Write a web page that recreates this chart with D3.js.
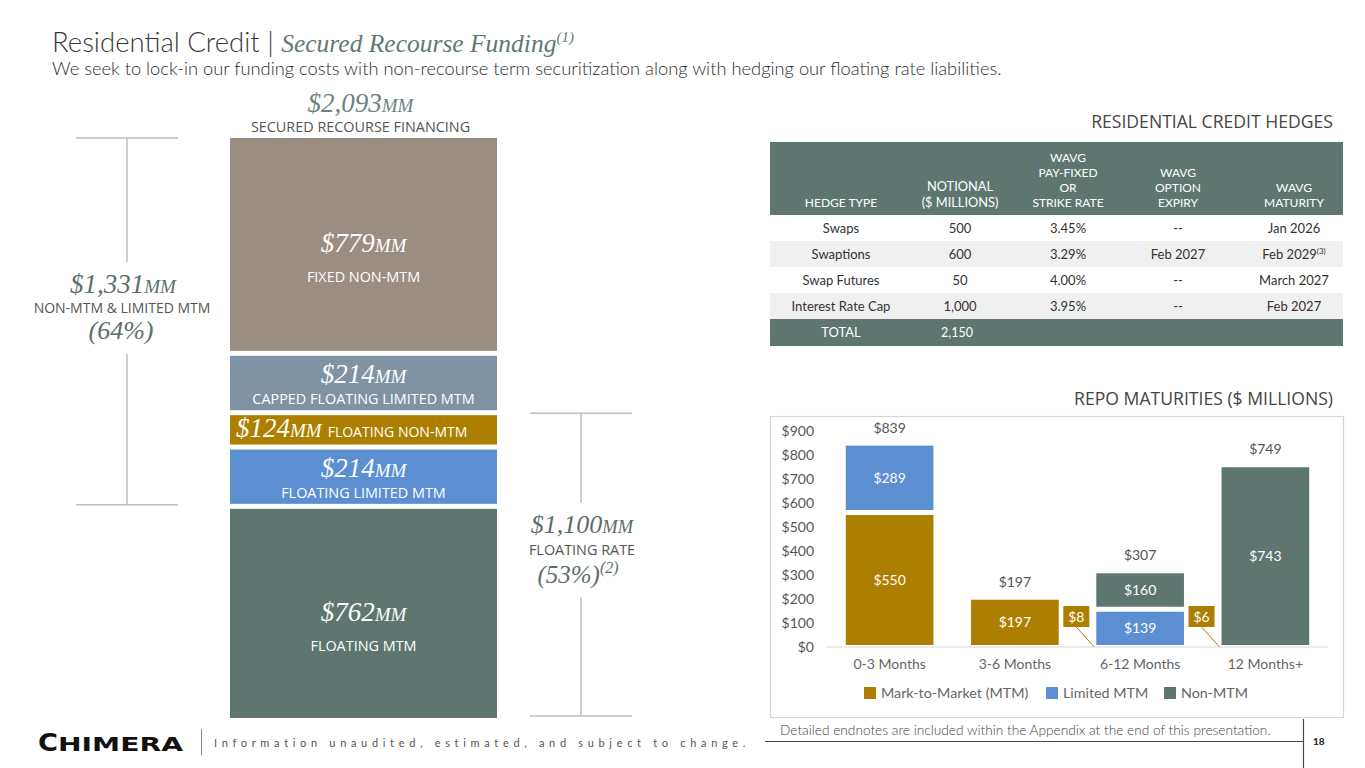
<!DOCTYPE html>
<html>
<head>
<meta charset="utf-8">
<script src="https://cdn.jsdelivr.net/npm/d3@7"></script>
<style>
  html, body { margin: 0; padding: 0; background: #fff; }
  svg { display: block; }
  text { font-family: Lato, "Open Sans", sans-serif; }
  .serif { font-family: "Liberation Serif", "DejaVu Serif", serif; font-style: italic; }
  .caps { font-family: "Open Sans", Lato, sans-serif; }
</style>
</head>
<body>
<svg id="chart" width="1365" height="768"></svg>
<script>
// ---------------- DATA ----------------
const fundingCategories = ["FLOATING MTM", "FLOATING LIMITED MTM", "FLOATING NON-MTM", "CAPPED FLOATING LIMITED MTM", "FIXED NON-MTM"];
const fundingValues = [762, 214, 124, 214, 779];
const fundingTotal = 2093;
const nonMtmLimitedTotal = 1331;   // 779 + 214 + 124 + 214
const floatingTotal = 1100;        // 762 + 214 + 124

const hedgeTypes = ["Swaps", "Swaptions", "Swap Futures", "Interest Rate Cap"];
const hedgeNotional = ["500", "600", "50", "1,000"];
const hedgeRate = ["3.45%", "3.29%", "4.00%", "3.95%"];
const hedgeExpiry = ["--", "Feb 2027", "--", "--"];
const hedgeMaturity = ["Jan 2026", "Feb 2029", "March 2027", "Feb 2027"];
const hedgeTotal = "2,150";

const repoCategories = ["0-3 Months", "3-6 Months", "6-12 Months", "12 Months+"];
const repoMTM = [550, 197, 8, 6];
const repoLimited = [289, 0, 139, 0];
const repoNonMTM = [0, 0, 160, 743];
const repoTotals = [839, 197, 307, 749];
const repoTicks = [0, 100, 200, 300, 400, 500, 600, 700, 800, 900];
const repoSeries = ["Mark-to-Market (MTM)", "Limited MTM", "Non-MTM"];

// ---------------- STYLE ----------------
const fundingColors = ["#5d7770", "#5b8fd1", "#ad7f00", "#7f93a5", "#9a8e82"];
const repoColors = ["#ad7f00", "#5b8fd1", "#5d7770"];
const accent = "#6a837d";
const VAL = 27, MMS = 19, CAP = 14.4;

const svg = d3.select("#chart");

// ---------------- TITLE ----------------
const title = svg.append("text").attr("x", 52).attr("y", 52).attr("fill", "#3a3a3a");
title.append("tspan").attr("font-size", 27.5).attr("font-weight", 300).text("Residential Credit | ");
title.append("tspan").attr("font-size", 25.5).attr("fill", "#5f7a74")
  .style("font-family", "'Liberation Serif', serif").style("font-style", "italic").text("Secured Recourse Funding");
title.append("tspan").attr("dy", -10).attr("font-size", 15).attr("fill", "#5f7a74")
  .style("font-family", "'Liberation Serif', serif").style("font-style", "italic").text("(1)");

svg.append("text").attr("x", 52).attr("y", 75).attr("font-size", 18.3).attr("font-weight", 300).attr("fill", "#2e2e2e")
  .text("We seek to lock-in our funding costs with non-recourse term securitization along with hedging our floating rate liabilities.");

// ---------------- LEFT STACKED BAR ----------------
const barX0 = 230, barX1 = 497, barCx = (barX0 + barX1) / 2;
const yF = d3.scaleLinear().domain([0, fundingTotal]).range([718, 138]);
const gap = 5;
let cum = 0;
const fundingStack = fundingValues.map((v, i) => {
  const s = { cat: fundingCategories[i], value: v, y0: cum, y1: cum + v, i };
  cum += v; return s;
});

const gF = svg.append("g");
gF.selectAll("rect").data(fundingStack).join("rect")
  .attr("x", barX0).attr("width", barX1 - barX0)
  .attr("y", d => yF(d.y1) + (d.y1 < fundingTotal ? 2 : 0))
  .attr("height", d => yF(d.y0) - yF(d.y1) - (d.y0 > 0 ? gap : 0) - (d.y1 < fundingTotal ? 2 : 0) + (d.y0 > 0 ? 2 : 0))
  .attr("fill", d => fundingColors[d.i]);

function moneyMM(sel, val, size, mm) {
  sel.append("tspan").attr("font-size", size).text("$" + d3.format(",")(val));
  sel.append("tspan").attr("font-size", mm || size * 0.71).text("MM");
}

fundingStack.forEach(d => {
  const top = yF(d.y1), bot = yF(d.y0) - (d.y0 > 0 ? gap : 0);
  const mid = (top + bot) / 2 + 1, h = bot - top;
  if (h < 40) {
    const t = gF.append("text").attr("x", barX0 + 6).attr("y", mid + 8).attr("fill", "#fff");
    const s = t.append("tspan").style("font-family", "'Liberation Serif', serif").style("font-style", "italic");
    s.append("tspan").attr("font-size", VAL).text("$" + d.value);
    s.append("tspan").attr("font-size", MMS).text("MM");
    t.append("tspan").attr("dx", 6).style("font-family", "'Open Sans', sans-serif")
      .attr("font-size", CAP - 0.4).text(d.cat);
  } else {
    const big = h > 100;
    const vy = big ? mid + 8 : mid + 1;
    const cy = big ? mid + 38 : mid + 22;
    const t = gF.append("text").attr("class", "serif").attr("x", barCx).attr("y", vy)
      .attr("text-anchor", "middle").attr("fill", "#fff");
    moneyMM(t, d.value, VAL, MMS);
    gF.append("text").attr("class", "caps").attr("x", barCx).attr("y", cy).attr("text-anchor", "middle")
      .attr("fill", "#fff").attr("font-size", CAP).text(d.cat);
  }
});

// Header of the stacked bar
const th = svg.append("text").attr("class", "serif").attr("x", barCx - 3).attr("y", 112)
  .attr("text-anchor", "middle").attr("fill", accent);
moneyMM(th, fundingTotal, VAL, MMS);
svg.append("text").attr("class", "caps").attr("x", barCx - 3).attr("y", 132).attr("text-anchor", "middle")
  .attr("font-size", CAP).attr("fill", "#555").text("SECURED RECOURSE FINANCING");

// Brackets
function bracket(cx, halfW, yTop, yBot, gapTop, gapBot, color) {
  const g = svg.append("g").attr("stroke", color).attr("stroke-width", 1.5);
  g.append("line").attr("x1", cx - halfW).attr("x2", cx + halfW).attr("y1", yTop).attr("y2", yTop);
  g.append("line").attr("x1", cx - halfW).attr("x2", cx + halfW).attr("y1", yBot).attr("y2", yBot);
  g.append("line").attr("x1", cx).attr("x2", cx).attr("y1", yTop).attr("y2", gapTop);
  g.append("line").attr("x1", cx).attr("x2", cx).attr("y1", gapBot).attr("y2", yBot);
}
const leftTop = yF(fundingTotal), leftBot = yF(fundingTotal - nonMtmLimitedTotal) - 2;
bracket(127, 51, leftTop, leftBot, 262, 354, "#b9c1c1");
const l1 = svg.append("text").attr("class", "serif").attr("x", 123).attr("y", 293)
  .attr("text-anchor", "middle").attr("fill", "#5e6e6c");
moneyMM(l1, nonMtmLimitedTotal, 27, 19);
svg.append("text").attr("class", "caps").attr("x", 122).attr("y", 313).attr("text-anchor", "middle")
  .attr("font-size", 14).attr("fill", "#555").text("NON-MTM & LIMITED MTM");
svg.append("text").attr("class", "serif").attr("x", 121).attr("y", 339).attr("text-anchor", "middle")
  .attr("font-size", 26).attr("fill", "#5e6e6c").text("(" + Math.round(nonMtmLimitedTotal / fundingTotal * 100) + "%)");

const rightTop = yF(floatingTotal), rightBot = yF(0) - 2;
bracket(581, 51, rightTop, rightBot, 503, 597, "#b9c1c1");
const r1 = svg.append("text").attr("class", "serif").attr("x", 582).attr("y", 533)
  .attr("text-anchor", "middle").attr("fill", "#5e6e6c");
moneyMM(r1, floatingTotal, 26, 18.5);
svg.append("text").attr("class", "caps").attr("x", 582).attr("y", 555).attr("text-anchor", "middle")
  .attr("font-size", 14.4).attr("fill", "#555").text("FLOATING RATE");
const r3 = svg.append("text").attr("class", "serif").attr("x", 578).attr("y", 583).attr("text-anchor", "middle")
  .attr("fill", "#5e6e6c");
r3.append("tspan").attr("font-size", 25).text("(" + Math.round(floatingTotal / fundingTotal * 100) + "%)");
r3.append("tspan").attr("font-size", 16).attr("dy", -10).text("(2)");

// ---------------- HEDGES TABLE ----------------
svg.append("text").attr("class", "caps").attr("x", 1333).attr("y", 128).attr("text-anchor", "end")
  .attr("font-size", 17.6).attr("fill", "#444").text("RESIDENTIAL CREDIT HEDGES");

const tX0 = 770, tX1 = 1343;
const colCenters = [841, 960, 1068, 1178, 1294];
const headerTop = 142, headerBot = 215, rowH = 26;
const tbl = svg.append("g");
tbl.append("rect").attr("x", tX0).attr("y", headerTop).attr("width", tX1 - tX0).attr("height", headerBot - headerTop).attr("fill", "#5d7770");
const headerLines = [["HEDGE TYPE"], ["NOTIONAL", "($ MILLIONS)"], ["WAVG", "PAY-FIXED", "OR", "STRIKE RATE"], ["WAVG", "OPTION", "EXPIRY"], ["WAVG", "MATURITY"]];
headerLines.forEach((lines, c) => {
  lines.forEach((ln, k) => {
    const big = c === 1;
    tbl.append("text").attr("x", colCenters[c]).attr("y", 207 - (lines.length - 1 - k) * (big ? 16 : 15))
      .attr("text-anchor", "middle").attr("fill", "#fff").attr("font-size", big ? 12.8 : 12)
      .text(ln);
  });
});
hedgeTypes.forEach((h, r) => {
  const y = headerBot + r * rowH;
  tbl.append("rect").attr("x", tX0).attr("y", y).attr("width", tX1 - tX0).attr("height", rowH)
    .attr("fill", r % 2 === 0 ? "#ffffff" : "#f0f0f0");
  const vals = [h, hedgeNotional[r], hedgeRate[r], hedgeExpiry[r], hedgeMaturity[r]];
  vals.forEach((v, c) => {
    const t = tbl.append("text").attr("x", colCenters[c]).attr("y", y + 18).attr("text-anchor", "middle")
      .attr("font-size", 13).attr("fill", "#333").text(v);
    if (r === 1 && c === 4) t.append("tspan").attr("font-size", 8).attr("dy", -5).text("(3)");
  });
});
const totY = headerBot + hedgeTypes.length * rowH;
tbl.append("rect").attr("x", tX0).attr("y", totY).attr("width", tX1 - tX0).attr("height", 27).attr("fill", "#5d7770");
tbl.append("text").attr("x", colCenters[0]).attr("y", totY + 18).attr("text-anchor", "middle").attr("font-size", 13).attr("fill", "#fff").text("TOTAL");
tbl.append("text").attr("x", colCenters[1] - 3).attr("y", totY + 18).attr("text-anchor", "middle").attr("font-size", 12.5).attr("fill", "#fff").text(hedgeTotal);

// ---------------- REPO MATURITIES ----------------
svg.append("text").attr("class", "caps").attr("x", 1333).attr("y", 405).attr("text-anchor", "end")
  .attr("font-size", 17.6).attr("fill", "#444").text("REPO MATURITIES ($ MILLIONS)");
svg.append("rect").attr("x", 770.5).attr("y", 416.5).attr("width", 573).attr("height", 301)
  .attr("fill", "none").attr("stroke", "#d6d6d6").attr("stroke-width", 1.2);

const xR = d3.scaleBand().domain(repoCategories).range([827, 1328]).paddingInner(0.3).paddingOuter(0.15);
const yR = d3.scaleLinear().domain([0, 900]).range([647, 431]);

const repoRows = repoCategories.map((c, i) => ({ cat: c, m: repoMTM[i], l: repoLimited[i], n: repoNonMTM[i] }));
const stackR = d3.stack().keys(["m", "l", "n"])(repoRows);

const gR = svg.append("g");
gR.selectAll(".ytick").data(repoTicks).join("text")
  .attr("x", 814).attr("y", d => yR(d) + 5).attr("text-anchor", "end")
  .attr("font-size", 14).attr("fill", "#555").text(d => "$" + d);
gR.append("line").attr("x1", 827).attr("x2", 1328).attr("y1", yR(0)).attr("y2", yR(0))
  .attr("stroke", "#d9d9d9").attr("stroke-width", 1.2);

const rGap = 5, tiny = 20;
const labels = [];
stackR.forEach((layer, li) => {
  layer.forEach((seg, ci) => {
    const v = seg[1] - seg[0];
    if (v <= 0) return;
    const x = xR(repoCategories[ci]), w = xR.bandwidth();
    const top = yR(seg[1]);
    const bot = seg[0] >= tiny ? yR(seg[0]) - rGap : yR(0) - 2;
    if (v >= tiny) {
      gR.append("rect").attr("x", x).attr("y", top).attr("width", w).attr("height", Math.max(1, bot - top)).attr("fill", repoColors[li]);
      labels.push({ x: x + w / 2, y: (top + bot) / 2 + 5, t: "$" + v });
    } else {
      // sliver hidden under the next segment; shown as a callout box
      const bw = v >= 10 ? 30 : 26, bx = x - 7 - bw, by = 606, bh = 21;
      gR.append("line").attr("x1", bx + bw * 0.5).attr("y1", by + bh).attr("x2", x - 2).attr("y2", yR(0))
        .attr("stroke", repoColors[li]).attr("stroke-width", 1);
      gR.append("rect").attr("x", bx).attr("y", by).attr("width", bw).attr("height", bh).attr("fill", repoColors[li]);
      labels.push({ x: bx + bw / 2, y: by + bh / 2 + 5, t: "$" + v });
    }
  });
});
gR.selectAll(".seglab").data(labels).join("text")
  .attr("x", d => d.x).attr("y", d => d.y).attr("text-anchor", "middle")
  .attr("font-size", 14).attr("fill", "#fff").text(d => d.t);
gR.selectAll(".tot").data(repoCategories).join("text")
  .attr("x", d => xR(d) + xR.bandwidth() / 2).attr("y", (d, i) => yR(repoTotals[i]) - 13)
  .attr("text-anchor", "middle").attr("font-size", 14).attr("fill", "#555").text((d, i) => "$" + repoTotals[i]);
gR.selectAll(".cat").data(repoCategories).join("text")
  .attr("x", d => xR(d) + xR.bandwidth() / 2).attr("y", 669)
  .attr("text-anchor", "middle").attr("font-size", 14).attr("fill", "#666").text(d => d);
const legX = [864, 1046, 1164];
repoSeries.forEach((s, i) => {
  gR.append("rect").attr("x", legX[i]).attr("y", 687).attr("width", 12).attr("height", 12).attr("fill", repoColors[i]);
  gR.append("text").attr("x", legX[i] + 17).attr("y", 698).attr("font-size", 14.3).attr("fill", "#666").text(s);
});

// ---------------- FOOTER ----------------
const logo = svg.append("text").attr("x", 38).attr("y", 751).attr("fill", "#111")
  .style("font-family", "'DejaVu Sans', sans-serif").attr("font-weight", 700);
logo.append("tspan").attr("font-size", 25).attr("textLength", 20).attr("lengthAdjust", "spacingAndGlyphs").text("C");
logo.append("tspan").attr("font-size", 19.5).attr("textLength", 125).attr("lengthAdjust", "spacingAndGlyphs").text("HIMERA");
svg.append("line").attr("x1", 201.5).attr("x2", 201.5).attr("y1", 729).attr("y2", 755).attr("stroke", "#888").attr("stroke-width", 1);
svg.append("text").attr("x", 214).attr("y", 747).attr("font-size", 11).attr("letter-spacing", 4.68)
  .attr("fill", "#555").text("Information unaudited, estimated, and subject to change.");

svg.append("text").attr("x", 780).attr("y", 735).attr("font-size", 13.7).attr("font-weight", 300).attr("fill", "#444")
  .text("Detailed endnotes are included within the Appendix at the end of this presentation.");
svg.append("line").attr("x1", 765).attr("x2", 1303).attr("y1", 741.5).attr("y2", 741.5).attr("stroke", "#3e4d4a").attr("stroke-width", 1.2);
svg.append("line").attr("x1", 1303.5).attr("x2", 1303.5).attr("y1", 719).attr("y2", 768).attr("stroke", "#3e4d4a").attr("stroke-width", 1.2);
svg.append("text").attr("x", 1313).attr("y", 745).attr("font-size", 10).attr("font-weight", 900).attr("fill", "#1f2e2b").text("18");
</script>
</body>
</html>
